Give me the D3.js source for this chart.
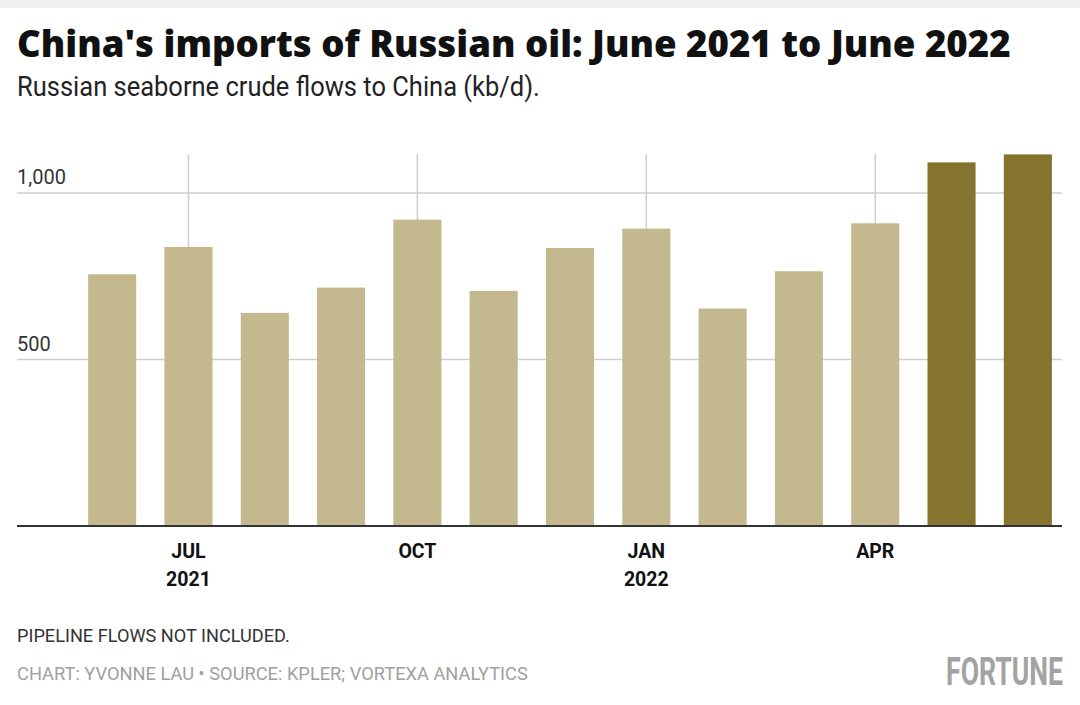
<!DOCTYPE html>
<html>
<head>
<meta charset="utf-8">
<script src="https://cdn.jsdelivr.net/npm/d3@7"></script>
<style>
  body { margin: 0; background: #fff; }
  svg { display: block; }
</style>
</head>
<body>
<div id="chart"></div>
<script>
const months = ["2021-06", "2021-07", "2021-08", "2021-09", "2021-10", "2021-11", "2021-12",
                "2022-01", "2022-02", "2022-03", "2022-04", "2022-05", "2022-06"];
const flows = [756, 838, 640, 716, 920, 706, 835, 893, 653, 765, 909, 1092, 1116];
const highlighted = ["2022-05", "2022-06"];
const yTicks = [500, 1000];
const xTicks = [
  { month: "2021-07", lines: ["JUL", "2021"] },
  { month: "2021-10", lines: ["OCT"] },
  { month: "2022-01", lines: ["JAN", "2022"] },
  { month: "2022-04", lines: ["APR"] }
];

const width = 1080, height = 705;
const sans = "Roboto, 'Liberation Sans', sans-serif";

const svg = d3.select("#chart")
  .append("svg")
  .attr("width", width)
  .attr("height", height);

// squeeze a text horizontally to a given width (the original uses condensed faces)
// x0 is the left edge, or the right edge when anchor is "end"
function squeeze(sel, x0, y0, w) {
  sel.attr("x", 0).attr("y", 0);
  const cur = sel.node().getComputedTextLength();
  const sx = Math.min(1, w / cur);
  sel.attr("transform", `translate(${x0},${y0}) scale(${sx},1)`);
  return sel;
}

svg.append("rect")
  .attr("width", width)
  .attr("height", 8)
  .attr("fill", "#f0f0f0");

// title + subtitle
svg.append("text")
  .attr("font-family", "'Open Sans', sans-serif")
  .attr("font-weight", 800)
  .attr("font-size", 36.6)
  .attr("fill", "#111")
  .text("China's imports of Russian oil: June 2021 to June 2022")
  .call(squeeze, 17, 57, 996);

svg.append("text")
  .attr("font-family", sans)
  .attr("font-size", 27)
  .attr("fill", "#222")
  .text("Russian seaborne crude flows to China (kb/d).")
  .call(squeeze, 17, 96, 523);

const x = d3.scaleBand()
  .domain(months)
  .range([74, 1066])
  .paddingInner(0.37)
  .paddingOuter(0.185);

const y = d3.scaleLinear()
  .domain([0, 1000])
  .range([526, 193]);

// horizontal grid
svg.selectAll(".hgrid")
  .data(yTicks)
  .join("line")
  .attr("class", "hgrid")
  .attr("x1", 17)
  .attr("x2", 1062)
  .attr("y1", d => y(d))
  .attr("y2", d => y(d))
  .attr("stroke", "#cfcfcf")
  .attr("stroke-width", 1.5);

svg.selectAll(".ylab")
  .data(yTicks)
  .join("text")
  .attr("class", "ylab")
  .attr("x", 17)
  .attr("y", d => y(d) - 9)
  .attr("font-family", sans)
  .attr("font-size", 20)
  .attr("fill", "#333")
  .text(d => d3.format(",")(d));

// vertical grid at labelled months
svg.selectAll(".vgrid")
  .data(xTicks)
  .join("line")
  .attr("class", "vgrid")
  .attr("x1", d => x(d.month) + x.bandwidth() / 2)
  .attr("x2", d => x(d.month) + x.bandwidth() / 2)
  .attr("y1", 154)
  .attr("y2", 526)
  .attr("stroke", "#cfcfcf")
  .attr("stroke-width", 1.5);

// bars
svg.selectAll(".bar")
  .data(months)
  .join("rect")
  .attr("class", "bar")
  .attr("x", d => x(d))
  .attr("y", (d, i) => y(flows[i]))
  .attr("width", x.bandwidth())
  .attr("height", (d, i) => y(0) - y(flows[i]))
  .attr("fill", d => highlighted.includes(d) ? "#85742d" : "#c4b88f");

// baseline
svg.append("line")
  .attr("x1", 17)
  .attr("x2", 1062)
  .attr("y1", y(0))
  .attr("y2", y(0))
  .attr("stroke", "#333")
  .attr("stroke-width", 2);

// x labels
const xl = svg.selectAll(".xlab")
  .data(xTicks)
  .join("text")
  .attr("class", "xlab")
  .attr("x", d => x(d.month) + x.bandwidth() / 2)
  .attr("y", 558)
  .attr("text-anchor", "middle")
  .attr("font-family", sans)
  .attr("font-weight", "bold")
  .attr("font-size", 19.5)
  .attr("fill", "#111");

xl.selectAll("tspan")
  .data(d => d.lines)
  .join("tspan")
  .attr("x", function() { return d3.select(this.parentNode).attr("x"); })
  .attr("dy", (d, i) => i === 0 ? 0 : 28)
  .text(d => d);

// footer
svg.append("text")
  .attr("font-family", sans)
  .attr("font-size", 19)
  .attr("fill", "#333")
  .text("PIPELINE FLOWS NOT INCLUDED.")
  .call(squeeze, 17, 642, 273);

svg.append("text")
  .attr("font-family", sans)
  .attr("font-size", 19)
  .attr("fill", "#a0a0a0")
  .text("CHART: YVONNE LAU \u2022 SOURCE: KPLER; VORTEXA ANALYTICS")
  .call(squeeze, 17, 680, 511);

svg.append("text")
  .attr("text-anchor", "end")
  .attr("font-family", sans)
  .attr("font-weight", "bold")
  .attr("font-size", 39)
  .attr("fill", "#a3a3a3")
  .text("FORTUNE")
  .call(squeeze, 1063, 685, 117);
</script>
</body>
</html>
